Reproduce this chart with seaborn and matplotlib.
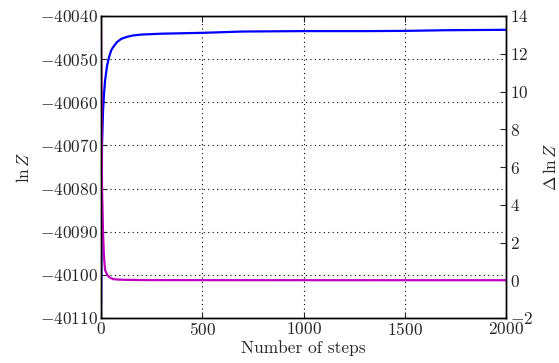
import matplotlib
matplotlib.use("Agg")
import matplotlib.pyplot as plt
import seaborn as sns
import pandas as pd

# Evidence estimate (ln Z) and remaining uncertainty (Delta ln Z) per step
steps = [0, 5, 10, 15, 20, 30, 40, 50, 60, 80, 100, 130, 160, 200, 300,
         500, 700, 1000, 1300, 1500, 1700, 2000]
ln_z = [-40112, -40070, -40062, -40058, -40055, -40051.5, -40049.5, -40048,
        -40047.2, -40046, -40045.3, -40044.8, -40044.5, -40044.3, -40044.1,
        -40043.9, -40043.6, -40043.5, -40043.5, -40043.45, -40043.3, -40043.2]
delta_ln_z = [14, 5, 2.5, 1.2, 0.55, 0.3, 0.17, 0.11, 0.06, 0.04, 0.03, 0.02,
              0.015, 0.01, 0.008, 0.005, 0.004, 0.003, 0.003, 0.002, 0.002, 0.002]

left_ticks = [-40110, -40100, -40090, -40080, -40070, -40060, -40050, -40040]
right_ticks = [-2, 0, 2, 4, 6, 8, 10, 12, 14]
x_ticks = [0, 500, 1000, 1500, 2000]

df = pd.DataFrame({"step": steps, "lnZ": ln_z, "dlnZ": delta_ln_z})

sns.set_style("ticks")
plt.rcParams.update({
    "font.family": "serif",
    "font.serif": ["cmr10", "DejaVu Serif"],
    "mathtext.fontset": "cm",
    "axes.formatter.use_mathtext": True,
    "axes.formatter.useoffset": False,
    "font.size": 12.5,
    "xtick.direction": "in",
    "ytick.direction": "in",
    "xtick.top": True,
    "xtick.major.size": 4,
    "ytick.major.size": 4,
    "axes.edgecolor": "black",
    "axes.linewidth": 1.0,
})

fig = plt.figure(figsize=(5.59, 3.63), dpi=100)
ax = fig.add_axes([101 / 559, 1 - 318 / 363, 405 / 559, 302 / 363])
ax2 = ax.twinx()

sns.lineplot(data=df, x="step", y="lnZ", ax=ax, color="blue", linewidth=1.6)
sns.lineplot(data=df, x="step", y="dlnZ", ax=ax2, color="#c000c0", linewidth=1.6)

ax.set_xlim(0, 2000)
ax.set_ylim(-40110, -40040)
ax2.set_ylim(-2, 14)
ax.set_xticks(x_ticks)
ax.set_yticks(left_ticks)
ax2.set_yticks(right_ticks)

ax.grid(True, color="black", linestyle=(0, (1, 3)), linewidth=0.8)
ax.set_axisbelow(True)

ax.set_xlabel("Number of steps", fontsize=12.5, labelpad=2)
ax.set_ylabel(r"$\ln Z$", fontsize=12.5, labelpad=6)
ax2.set_ylabel(r"$\Delta\,\ln Z$", fontsize=12.5, labelpad=6)

ax.tick_params(axis="both", labelsize=12.5, pad=2, direction="in")
ax2.tick_params(axis="y", labelsize=12.5, pad=3, direction="in")

for a in (ax, ax2):
    for s in a.spines.values():
        s.set_visible(True)
        s.set_color("black")

fig.savefig("out.png", dpi=100)
